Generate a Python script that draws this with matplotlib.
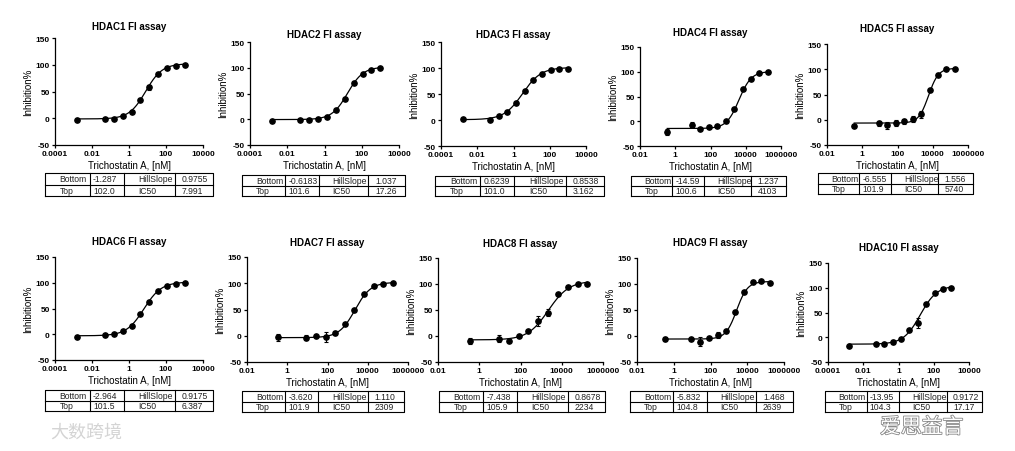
import numpy as np
import matplotlib
matplotlib.use("Agg")
from matplotlib import pyplot as plt
import matplotlib.patheffects as pe

W, H = 1015, 452

plt.rcParams['font.family'] = ['Liberation Sans', 'DejaVu Sans']
plt.rcParams['axes.unicode_minus'] = False

# concentrations (nM), two dilution series
conc_low = [0.0016, 0.0508, 0.152, 0.457, 1.37, 4.12, 12.3, 37.0, 111, 333, 1000]
conc_high = [0.35, 9, 27, 81, 243, 729, 2187, 6561, 19683, 59049, 177147]

ticks_low = [0.0001, 0.01, 1, 100, 10000]
ticks_low_lbl = ["0.0001", "0.01", "1", "100", "10000"]
ticks_high = [0.01, 1, 100, 10000, 1000000]
ticks_high_lbl = ["0.01", "1", "100", "10000", "1000000"]

names = ["HDAC1", "HDAC2", "HDAC3", "HDAC4", "HDAC5",
         "HDAC6", "HDAC7", "HDAC8", "HDAC9", "HDAC10"]
uses_high = [False, False, False, True, True, False, True, True, True, False]

# mean inhibition % per concentration
h1 = [-3, -0.6, -0.6, 5, 12, 34, 58, 82.5, 93, 97, 99]
h2 = [-2.6, -0.6, -0.6, 1.3, 5.2, 18, 40, 70, 88.4, 96, 98.7]
h3 = [1.3, 0.6, 7.7, 16, 33.5, 55, 77.4, 88.4, 96, 98, 98.7]
h4 = [-22.5, -6.6, -15.2, -11.3, -9.3, 0.7, 23.8, 65, 86, 97.4, 99.3]
h5 = [-13, -7, -11, -6, -3, 2, 11, 59, 89, 100, 100.5]
h6 = [-5.8, -1.3, 1.3, 6.4, 16, 39.7, 62.8, 84.6, 94.2, 98, 100]
h7 = [-3.2, -3.9, -1.3, -2, 5.8, 22, 50, 79, 94, 99.4, 100]
h8 = [-9, -5, -9.7, 0, 9.7, 28.6, 45, 80, 94, 100.6, 100.6]
h9 = [-6.5, -6.5, -11, -3.2, 2, 9, 46, 85, 103, 105, 101]
h10 = [-17, -14.3, -14.3, -9.5, -2.7, 14.3, 28.6, 67, 88.4, 98, 100]

# error bars (SD)
e1 = [0, 0, 0, 0, 0, 0, 5, 0, 0, 0, 0]
e2 = [0, 0, 0, 0, 0, 0, 0, 0, 0, 0, 0]
e3 = [0, 0, 0, 0, 0, 0, 0, 4, 0, 0, 0]
e4 = [6, 6, 0, 0, 0, 0, 2, 0, 0, 0, 0]
e5 = [0, 5, 7, 6, 5, 6, 7, 0, 3, 0, 0]
e6 = [0, 0, 0, 0, 0, 0, 0, 0, 0, 0, 0]
e7 = [7, 5, 0, 9, 4, 0, 0, 0, 0, 0, 0]
e8 = [6, 7, 0, 0, 0, 9, 6, 0, 0, 0, 0]
e9 = [4, 0, 9, 0, 6, 0, 0, 0, 0, 0, 0]
e10 = [0, 0, 0, 4, 0, 0, 10, 0, 0, 0, 0]

means = [h1, h2, h3, h4, h5, h6, h7, h8, h9, h10]
errs = [e1, e2, e3, e4, e5, e6, e7, e8, e9, e10]

# 4PL fit results
bottoms = [-1.287, -0.6183, 0.6239, -14.59, -6.555, -2.964, -3.620, -7.438, -5.832, -13.95]
tops = [102.0, 101.6, 101.0, 100.6, 101.9, 101.5, 101.9, 105.9, 104.8, 104.3]
hills = [0.9755, 1.037, 0.8538, 1.237, 1.556, 0.9175, 1.110, 0.8678, 1.468, 0.9172]
ic50s = [7.991, 17.26, 3.162, 4103, 5740, 6.387, 2309, 2234, 2639, 17.17]

bottom_txt = ["-1.287", "-0.6183", "0.6239", "-14.59", "-6.555",
              "-2.964", "-3.620", "-7.438", "-5.832", "-13.95"]
top_txt = ["102.0", "101.6", "101.0", "100.6", "101.9",
           "101.5", "101.9", "105.9", "104.8", "104.3"]
hill_txt = ["0.9755", "1.037", "0.8538", "1.237", "1.556",
            "0.9175", "1.110", "0.8678", "1.468", "0.9172"]
ic50_txt = ["7.991", "17.26", "3.162", "4103", "5740",
            "6.387", "2309", "2234", "2639", "17.17"]

# layout in pixels: axes (left, right, top, bottom), table (left, right, top, bottom)
AX = [(55, 203, 39, 146), (250, 399, 43, 146), (441, 586, 43, 147),
      (640, 781, 48, 147), (827, 968, 45, 146),
      (55, 203, 258, 361), (247, 408, 258, 363), (438, 603, 259, 363),
      (637, 784, 259, 363), (828, 969, 264, 363)]
TB = [(45, 213, 174, 197), (242, 405, 176, 197), (435, 604, 177, 197),
      (631, 786, 177, 197), (818, 973, 174, 195),
      (45, 213, 391, 412), (242, 404, 392, 413), (439, 605, 392, 413),
      (630, 793, 392, 413), (825, 982, 392, 413)]
TITLE_Y = [27, 35, 35, 33, 29, 242, 243, 244, 243, 248]


def rect(l, r, t, b):
    return [l / W, 1 - b / H, (r - l) / W, (b - t) / H]


def four_pl(x, bot, top, hill, ic50):
    return bot + (top - bot) / (1 + (ic50 / x) ** hill)


def draw_table(fig, box, row1, row2):
    tax = fig.add_axes(rect(*box))
    tax.set_xlim(0, 1)
    tax.set_ylim(0, 2)
    tax.axis('off')
    cols = [0, 0.265, 0.47, 0.775, 1.0]
    kw = dict(color='black', lw=0.8, clip_on=False)
    tax.plot([0, 1, 1, 0, 0], [0, 0, 2, 2, 0], **kw)
    tax.plot([0, 1], [1, 1], **kw)
    for c in cols[1:-1]:
        tax.plot([c, c], [0, 2], **kw)
    offs = [0.33, 0.1, 0.28, 0.18]
    for yy, row in ((1.5, row1), (0.5, row2)):
        for i, s in enumerate(row):
            x0 = cols[i] + offs[i] * (cols[i + 1] - cols[i])
            tax.text(x0, yy, s, ha='left', va='center', fontsize=6.2, color='#222222')


fig = plt.figure(figsize=(W / 100, H / 100), dpi=100)

for i in range(10):
    l, r, t, b = AX[i]
    ax = fig.add_axes(rect(l, r, t, b))
    xs = conc_high if uses_high[i] else conc_low
    ax.set_xscale('log')
    if uses_high[i]:
        ax.set_xlim(0.01, 1e6)
        ax.set_xticks(ticks_high, ticks_high_lbl)
    else:
        ax.set_xlim(1e-4, 1e4)
        ax.set_xticks(ticks_low, ticks_low_lbl)
    ax.minorticks_off()
    ax.set_ylim(-50, 150)
    ax.set_yticks([-50, 0, 50, 100, 150])
    for sp in ('top', 'right'):
        ax.spines[sp].set_visible(False)
    for sp in ('left', 'bottom'):
        ax.spines[sp].set_linewidth(0.9)
    ax.tick_params(direction='out', length=2.5, width=0.9, pad=1.2,
                   labelsize=6, colors='black')
    for lab in ax.get_xticklabels() + ax.get_yticklabels():
        lab.set_fontweight('bold')

    xfit = np.logspace(np.log10(xs[0]), np.log10(xs[-1]), 300)
    ax.plot(xfit, four_pl(xfit, bottoms[i], tops[i], hills[i], ic50s[i]),
            color='black', lw=0.9)
    ax.errorbar(xs, means[i], yerr=errs[i], fmt='o', color='black', ms=3.8,
                elinewidth=0.8, capsize=1.6, capthick=0.8)

    ax.set_xlabel("Trichostatin A, [nM]", fontsize=7, labelpad=2)
    ax.set_ylabel("Inhibition%", fontsize=7, labelpad=2)
    fig.text((l + r) / 2 / W, 1 - TITLE_Y[i] / H, names[i] + " FI assay",
             ha='center', va='center', fontsize=7, fontweight='bold')

    draw_table(fig, TB[i], ["Bottom", bottom_txt[i], "HillSlope", hill_txt[i]],
               ["Top", top_txt[i], "IC50", ic50_txt[i]])

# watermarks
fig.text(50 / W, 1 - 433 / H, "大数跨境", fontsize=13, color='#d4d4d4',
         ha='left', va='center', family=['Noto Sans CJK SC', 'DejaVu Sans'])
wm = fig.text(880 / W, 1 - 428 / H, "爱思益言", fontsize=15, color='white',
              ha='left', va='center', family=['Noto Sans CJK SC', 'DejaVu Sans'])
wm.set_path_effects([pe.withStroke(linewidth=1.2, foreground='#888888')])

fig.savefig("out.png", dpi=100)
